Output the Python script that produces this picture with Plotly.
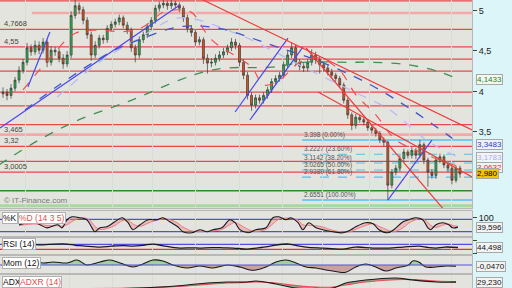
import numpy as np
import plotly.graph_objects as go

# ---------------- price candles (one per trading session) ----------------
CLOSE = [3.99,3.95,4.04,4.14,4.26,4.36,4.54,4.49,4.57,4.51,
         4.61,4.36,4.51,4.49,4.41,4.34,4.45,4.94,5.06,5.01,
         4.88,4.70,4.45,4.57,4.66,4.64,4.78,4.83,4.86,4.91,
         4.82,4.76,4.54,4.45,4.64,4.70,4.80,4.88,5.03,5.07,
         5.09,5.06,5.09,5.07,5.03,4.91,4.78,4.73,4.61,4.64,
         4.41,4.35,4.36,4.41,4.45,4.49,4.54,4.61,4.57,4.36,
         4.20,3.95,3.83,3.92,3.89,3.95,4.02,4.12,4.16,4.20,
         4.33,4.45,4.54,4.36,4.31,4.29,4.36,4.45,4.39,4.33,
         4.29,4.24,4.20,4.16,4.08,3.89,3.71,3.58,3.68,3.65,
         3.62,3.55,3.52,3.48,3.40,3.37,2.84,3.00,3.05,3.17,
         3.25,3.21,3.27,3.21,3.34,3.15,3.00,2.96,3.15,3.19,
         3.09,3.05,2.90,3.05,2.98]
OPEN = [3.97,3.99,3.95,4.04,4.14,4.26,4.36,4.54,4.49,4.57,
        4.51,4.61,4.36,4.51,4.49,4.41,4.34,4.45,4.94,5.06,
        5.01,4.88,4.70,4.45,4.57,4.66,4.64,4.78,4.83,4.86,
        4.91,4.82,4.76,4.54,4.45,4.64,4.70,4.80,4.88,5.03,
        5.07,5.09,5.06,5.09,5.07,5.03,4.91,4.78,4.73,4.61,
        4.64,4.41,4.35,4.36,4.41,4.45,4.49,4.54,4.61,4.57,
        4.36,4.20,3.95,3.83,3.92,3.89,3.95,4.02,4.12,4.16,
        4.20,4.33,4.45,4.54,4.36,4.31,4.29,4.36,4.45,4.39,
        4.33,4.29,4.24,4.20,4.16,4.08,3.89,3.71,3.58,3.68,
        3.65,3.62,3.55,3.52,3.48,3.40,3.37,2.84,3.00,3.05,
        3.17,3.25,3.21,3.27,3.21,3.34,3.15,3.00,2.96,3.15,
        3.19,3.09,3.05,2.90,3.05]
HIGH = [4.05,4.03,4.09,4.18,4.31,4.40,4.60,4.58,4.63,4.62,
        4.66,4.64,4.56,4.55,4.53,4.46,4.50,4.99,5.13,5.10,
        5.05,4.92,4.74,4.62,4.70,4.70,4.82,4.87,4.90,4.95,
        4.94,4.86,4.79,4.58,4.68,4.74,4.84,4.92,5.07,5.11,
        5.13,5.12,5.13,5.12,5.10,5.06,4.95,4.82,4.77,4.68,
        4.67,4.46,4.41,4.46,4.50,4.54,4.58,4.66,4.65,4.60,
        4.40,4.24,3.99,3.96,3.96,3.99,4.06,4.16,4.20,4.24,
        4.37,4.50,4.60,4.58,4.40,4.35,4.40,4.52,4.49,4.43,
        4.36,4.32,4.28,4.23,4.19,4.11,3.92,3.74,3.72,3.71,
        3.68,3.65,3.58,3.55,3.51,3.43,3.39,3.04,3.09,3.21,
        3.29,3.28,3.31,3.30,3.40,3.37,3.18,3.04,3.19,3.23,
        3.22,3.12,3.08,3.08,3.08]
LOW = [3.92,3.89,3.91,4.00,4.10,4.22,4.32,4.44,4.45,4.46,
       4.47,4.30,4.32,4.44,4.36,4.28,4.30,4.41,4.90,4.96,
       4.83,4.65,4.38,4.41,4.53,4.59,4.60,4.74,4.79,4.82,
       4.78,4.71,4.49,4.36,4.41,4.60,4.66,4.76,4.84,4.99,
       5.03,5.01,5.02,5.03,4.98,4.86,4.73,4.68,4.56,4.57,
       4.34,4.22,4.30,4.32,4.37,4.41,4.45,4.50,4.52,4.31,
       4.15,3.90,3.76,3.79,3.85,3.85,3.91,3.98,4.08,4.12,
       4.16,4.29,4.41,4.31,4.26,4.24,4.25,4.32,4.34,4.22,
       4.25,4.20,4.16,4.12,4.04,3.85,3.66,3.52,3.54,3.61,
       3.58,3.51,3.48,3.44,3.36,3.32,2.66,2.80,2.96,3.01,
       3.13,3.17,3.17,3.16,3.17,3.10,2.82,2.92,2.92,3.11,
       3.05,3.00,2.85,2.87,2.93]
IDX = list(range(len(CLOSE)))

# ---------------- moving averages (sampled) ----------------
MA_RED_X = [5, 12, 18, 24, 30, 35, 40, 44, 47, 52, 62, 65, 69, 74, 79, 84, 88, 93, 98, 104, 109, 114]
MA_RED = [4.02, 4.43, 4.72, 4.76, 4.74, 4.80, 4.98, 5.01, 4.98, 4.64, 4.30, 4.08, 4.14, 4.36, 4.41, 4.26,
          3.96, 3.71, 3.40, 3.25, 3.15, 3.0632]
MA_BLUE_X = [5.5, 14, 27, 34, 44, 54, 62, 69, 78, 91, 102, 111.5, 114]
MA_BLUE = [3.77, 4.08, 4.49, 4.64, 4.80, 4.78, 4.66, 4.54, 4.39, 4.10, 3.77, 3.44, 3.3483]
MA_LAV_X = [13.5, 24, 34, 44, 58, 67, 75, 86.5, 96.5, 105, 110, 114]
MA_LAV = [3.93, 4.36, 4.66, 4.91, 4.72, 4.51, 4.30, 4.02, 3.77, 3.42, 3.27, 3.1783]
MA_GREEN_X = [-1, 9, 19, 32, 44, 50, 56, 67, 75, 86, 92, 101, 109, 114]
MA_GREEN = [3.09, 3.40, 3.65, 3.89, 4.14, 4.24, 4.29, 4.30, 4.36, 4.36, 4.36, 4.33, 4.24, 4.1433]
LAST_PRICE = 2.980

# ---------------- drawn lines ----------------
BLUE_TRENDS = [([-0.75, 44.1], [3.547, 5.069]),
               ([6.2, 11.7], [4.054, 4.735]),
               ([57.9, 71.1], [3.745, 4.660]),
               ([61.6, 74.8], [3.646, 4.549]),
               ([96.0, 107.0], [2.655, 3.398])]
RED_TRENDS = [([49.9, 117.0], [5.131, 3.522]),
              ([75.6, 110.7], [4.537, 2.495]),
              ([78.6, 117.0], [3.992, 2.940])]
RED_LEVELS = [5.12, 4.7668, 4.55, 4.40, 4.25, 3.99, 3.82, 3.59, 3.32, 3.135, 3.0005]
PINK_LEVELS = [(7.2, 4.97), (-0.75, 3.465)]
GREEN_LEVEL = 2.77
LIGHT_GREEN_LEVEL = 2.585
LABELLED_LEVELS = [4.7668, 4.55, 3.465, 3.32, 3.0005]
LABELLED_TEXT = ["4,7668", "4,55", "3,465", "3,32", "3,0005"]
FIB_LEVELS = [3.398, 3.2227, 3.1142, 3.0265, 2.9389, 2.6551]
FIB_PCT = ["0.00%", "23.60%", "38.20%", "50.00%", "61.80%", "100.00%"]
FIB_START = 74.6

# ---------------- indicators ----------------
STOCH_X = [4, 8, 11, 13.7, 14.7, 16, 17.2, 19.2, 20.9, 22.2, 22.9, 24.2, 25.9, 27.9, 29.7, 31.2, 32.4, 34.2,
           36.2, 38.4, 39.9, 41.6, 43.6, 44.9, 47.1, 49.1, 50.9, 52.4, 54.6, 56.6, 57.9, 59.1, 61.1, 63.1,
           65.6, 67.3, 68.8, 70.6, 71.8, 73.6, 74.8, 76.3, 78.1, 79.8, 82.3, 84.8, 86.8, 88, 90.5, 92.3,
           93.8, 96, 97.5, 99.8, 101.2, 103, 104.7, 106, 106.7, 108, 109.7, 111.2, 112.2, 113.5]
STOCH_K = [55, 68, 35, 55, 35, 87, 106, 100, 87, 35, 10, 35, 42, 74, 100, 68, 23, 55, 87, 87, 100, 74, 42, 10,
           3, 23, 10, 23, 35, 87, 68, 23, 3, 23, 35, 100, 106, 87, 100, 68, 23, 68, 35, 23, 10, 3, 23, 42, 68,
           61, 23, 3, 23, 74, 87, 100, 87, 35, 23, 55, 68, 55, 35, 39.596]
STOCH_D = [50, 60, 50, 48, 45, 55, 75, 98, 95, 70, 45, 25, 30, 50, 80, 85, 60, 45, 65, 85, 92, 88, 65, 40,
           15, 10, 12, 16, 25, 55, 70, 55, 25, 12, 25, 60, 90, 98, 95, 85, 55, 50, 48, 40, 18, 8, 10, 25, 50,
           62, 45, 20, 10, 35, 65, 88, 92, 70, 50, 38, 52, 60, 50, 45]
STOCH_LEVELS = [90, 10]
RSI_X = [7.5, 10, 13, 15.9, 18, 20, 24.2, 27, 30, 32.4, 35, 37.4, 40, 44.1, 47, 49.1, 52, 55, 57.4, 60.9, 63.1,
         66, 68.1, 71.3, 73, 75.6, 79.8, 82, 84.8, 88, 92.3, 96.3, 99.8, 103.7, 106, 108, 110.2, 113.5]
RSI_V = [70, 66, 72, 72, 62, 58, 48, 55, 60, 56, 62, 72, 58, 40, 42, 40, 44, 42, 40, 32, 40, 52, 64, 72, 62, 48,
         40, 36, 32, 48, 40, 40, 48, 56, 45, 40, 48, 44.498]
RSI_LEVELS = [70, 30]
MOM_X = [7.5, 10, 12.5, 16, 18.5, 20.9, 24.2, 26.7, 29.2, 32.4, 34.9, 37.4, 39.9, 42.4, 45.9, 49.1, 52.4, 55.9,
         59.1, 61.6, 63.1, 65.6, 68.1, 70.6, 73.1, 75.6, 78.1, 80.5, 83, 85.5, 88, 90.5, 93, 95.5, 98, 101.2,
         102.2, 103.7, 105.5, 108, 110.5, 113]
MOM_V = [0.2, 0.08, 0.12, 0.08, 0.2, 0, 0.12, 0.2, 0.08, -0.08, 0.04, 0.2, 0.16, 0, -0.12, -0.04, -0.12, 0,
         -0.08, -0.2, -0.2, -0.08, 0.12, 0.2, 0.08, -0.08, -0.12, -0.2, -0.26, -0.29, -0.08, 0.04, -0.08,
         -0.24, -0.12, 0, 0.16, 0.12, -0.08, -0.08, -0.04, -0.047]
ADX_X = [0, 14.2, 29.2, 39.2, 45.9, 50.9, 55.9, 60.8, 63.1, 68.1, 73.1, 78.1, 82.3, 85.5, 90.5, 98, 102.2, 108, 113]
ADX_V = [-5, -5, -3, 5, 15, 25, 30, 30, 35, 20, 0, -2, 0, 25, 40, 50, 40, 30, 29.23]
ADXR_V = [-4, -3, -2, 3, 10, 18, 25, 28, 30, 25, 12, 5, 5, 15, 30, 42, 42, 35, 32]

GRID_IDX = [5.5, 16.7, 27.2, 37.4, 47.9, 59.1, 69.6, 79.8, 91.5, 101.5, 112.0]

# ---------------- geometry ----------------
W, H = 512, 288
XR = [-0.75, 117.0]
XDOM = [0, 472 / W]
FONT = "Liberation Sans"


def ydom(top, bot):
    return [1 - bot / H, 1 - top / H]


def fmt(v, nd):
    return f"{v:.{nd}f}".replace(".", ",")


fig = go.Figure()


def line(x, y, color, dash="solid", width=1.2, ax="", shape="linear", **kw):
    fig.add_trace(go.Scatter(x=x, y=y, mode="lines",
                             line=dict(color=color, dash=dash, width=width, shape=shape),
                             xaxis="x" + ax, yaxis="y" + ax, hoverinfo="skip", **kw))


# main panel
fig.add_trace(go.Candlestick(
    x=IDX, open=OPEN, high=HIGH, low=LOW, close=CLOSE,
    increasing=dict(line=dict(color="#3a3a3a", width=0.7), fillcolor="#2db34a"),
    decreasing=dict(line=dict(color="#3a3a3a", width=0.7), fillcolor="#d9531e"),
    whiskerwidth=0, hoverinfo="skip", xaxis="x", yaxis="y"))

line(MA_GREEN_X, MA_GREEN, "#3f8f55", "dash", 1.3, shape="spline")
line(MA_LAV_X, MA_LAV, "#b4bcf0", "dash", 1.3, shape="spline")
line(MA_BLUE_X, MA_BLUE, "#3f57c8", "dash", 1.3, shape="spline")
line(MA_RED_X, MA_RED, "#ee5050", "dash", 1.2, shape="spline")
for xs, ys in BLUE_TRENDS:
    line(xs, ys, "#4848ee", "solid", 1.2)
for xs, ys in RED_TRENDS:
    line(xs, ys, "#ee3c3c", "solid", 1.2)

shapes = []
shapes.append(dict(type="rect", xref="paper", yref="paper", x0=0, x1=XDOM[1], y0=0, y1=1,
                   fillcolor="#e4e4df", line=dict(width=0), layer="below"))
for lv in RED_LEVELS:
    shapes.append(dict(type="line", xref="x", yref="y", x0=XR[0], x1=XR[1], y0=lv, y1=lv,
                       line=dict(color="#e8494b", width=1.3), layer="below"))
for x0, lv in PINK_LEVELS:
    shapes.append(dict(type="line", xref="x", yref="y", x0=x0, x1=XR[1], y0=lv, y1=lv,
                       line=dict(color="#f3a9a9", width=2.6), layer="below"))
shapes.append(dict(type="line", xref="x", yref="y", x0=XR[0], x1=XR[1], y0=GREEN_LEVEL, y1=GREEN_LEVEL,
                   line=dict(color="#2f8a2f", width=1.4), layer="below"))
shapes.append(dict(type="line", xref="x", yref="y", x0=XR[0], x1=XR[1], y0=LIGHT_GREEN_LEVEL,
                   y1=LIGHT_GREEN_LEVEL, line=dict(color="#a8d8a0", width=3), layer="below"))
for i, lv in enumerate(FIB_LEVELS):
    solid = i in (0, len(FIB_LEVELS) - 1)
    shapes.append(dict(type="line", xref="x", yref="y", x0=FIB_START, x1=XR[1], y0=lv, y1=lv,
                       line=dict(color="#52bff0", width=1.4 if solid else 1.1,
                                 dash="solid" if solid else "dash"), layer="below"))

# indicator panels
line(STOCH_X, STOCH_D, "#ec7d7d", "solid", 1.0, ax="2", shape="spline")
line(STOCH_X, STOCH_K, "#1a1a1a", "solid", 1.1, ax="2", shape="spline",
     fill="tonexty", fillcolor="rgba(238,140,140,0.45)")
for lv in STOCH_LEVELS:
    shapes.append(dict(type="line", xref="x2", yref="y2", x0=XR[0], x1=XR[1], y0=lv, y1=lv,
                       line=dict(color="#5050e0", width=1.2), layer="below"))

shapes.append(dict(type="line", xref="x3", yref="y3", x0=XR[0], x1=XR[1], y0=RSI_LEVELS[0], y1=RSI_LEVELS[0],
                   line=dict(color="#5050e0", width=1.2), layer="below"))
shapes.append(dict(type="line", xref="x3", yref="y3", x0=XR[0], x1=XR[1], y0=RSI_LEVELS[1], y1=RSI_LEVELS[1],
                   line=dict(color="#e83030", width=1.2), layer="below"))
line(RSI_X, RSI_V, "#1a1a1a", "solid", 1.3, ax="3", shape="spline")

mom = np.array(MOM_V)
fig.add_trace(go.Scatter(x=MOM_X, y=np.maximum(mom, 0), mode="lines", line=dict(width=0, shape="spline"),
                         fill="tozeroy", fillcolor="rgba(120,195,120,0.6)", xaxis="x4", yaxis="y4",
                         hoverinfo="skip"))
fig.add_trace(go.Scatter(x=MOM_X, y=np.minimum(mom, 0), mode="lines", line=dict(width=0, shape="spline"),
                         fill="tozeroy", fillcolor="rgba(175,95,85,0.5)", xaxis="x4", yaxis="y4",
                         hoverinfo="skip"))
shapes.append(dict(type="line", xref="x4", yref="y4", x0=XR[0], x1=XR[1], y0=0, y1=0,
                   line=dict(color="#5050e0", width=1.2)))
line(MOM_X, MOM_V, "#1a1a1a", "solid", 1.1, ax="4", shape="spline")

line(ADX_X, ADXR_V, "#e85050", "solid", 1.1, ax="5", shape="spline")
line(ADX_X, ADX_V, "#1a1a1a", "solid", 1.1, ax="5", shape="spline",
     fill="tonexty", fillcolor="rgba(90,90,90,0.5)")

# ---------------- axes ----------------
common_x = dict(domain=XDOM, range=XR, showticklabels=False, ticks="", showgrid=True,
                gridcolor="#dcdcd6", gridwidth=1, tickvals=GRID_IDX, zeroline=False,
                showline=True, mirror=True, linecolor="#b8b8b8", fixedrange=True)
common_y = dict(side="right", ticks="outside", ticklen=4, tickcolor="#444",
                tickfont=dict(size=9, color="#222", family=FONT), showgrid=False, zeroline=False,
                showline=True, mirror=True, linecolor="#b8b8b8", fixedrange=True)

layout_axes = dict(
    xaxis=dict(**common_x, anchor="y", rangeslider=dict(visible=False)),
    xaxis2=dict(**common_x, anchor="y2"),
    xaxis3=dict(**common_x, anchor="y3"),
    xaxis4=dict(**common_x, anchor="y4"),
    xaxis5=dict(**common_x, anchor="y5"),
    yaxis=dict(**common_y, anchor="x", domain=ydom(0, 208), range=[2.557, 5.131], tickvals=[3.5, 4, 4.5, 5]),
    yaxis2=dict(**common_y, anchor="x2", domain=ydom(211, 236), range=[-17.7, 143.5], tickvals=[100]),
    yaxis3=dict(**common_y, anchor="x3", domain=ydom(238, 254), range=[-7.6, 120.4], tickvals=[0, 100],
                showticklabels=False),
    yaxis4=dict(**common_y, anchor="x4", domain=ydom(256, 273), range=[-0.32, 0.36], tickvals=[]),
    yaxis5=dict(**common_y, anchor="x5", domain=ydom(275, 288), range=[0, 65], tickvals=[]),
)

# ---------------- annotations ----------------
ann = []
for lv, txt in zip(LABELLED_LEVELS, LABELLED_TEXT):
    ann.append(dict(xref="paper", yref="y", x=2 / W, y=lv, text=txt, showarrow=False, xanchor="left",
                    yanchor="bottom", yshift=-1, font=dict(size=7.5, color="#444", family=FONT)))
for lv, pct in zip(FIB_LEVELS, FIB_PCT):
    ann.append(dict(xref="x", yref="y", x=FIB_START, y=lv, text=f"{lv} ({pct})", showarrow=False,
                    xanchor="left", yanchor="bottom", yshift=-1,
                    font=dict(size=6.5, color="#555", family=FONT)))
ann.append(dict(xref="paper", yref="y", x=2 / W, y=2.655, text="© IT-Finance.com", showarrow=False,
                xanchor="left", yanchor="middle", font=dict(size=8, color="#777", family=FONT)))

boxes = [("y", MA_GREEN[-1], 4, "#2e7d32", "#f3f7ee"),
         ("y", MA_BLUE[-1], 4, "#2f3fc0", "#eef0fb"),
         ("y", MA_LAV[-1], 4, "#aab0e6", "#f3f3fb"),
         ("y", MA_RED[-1], 4, "#e03030", "#f8f0f0"),
         ("y", LAST_PRICE, 3, "#000000", "#f5c400"),
         ("y2", STOCH_K[-1], 3, "#111", "#f4f4f4"),
         ("y3", RSI_V[-1], 3, "#111", "#f4f4f4"),
         ("y4", MOM_V[-1], 4, "#111", "#f4f4f4"),
         ("y5", ADX_V[-1], 3, "#111", "#f4f4f4")]
for yr, v, nd, col, bg in boxes:
    ann.append(dict(xref="paper", yref=yr, x=476 / W, y=v, text=fmt(v, nd), showarrow=False,
                    xanchor="left", yanchor="middle", bgcolor=bg, bordercolor="#a8a8a8", borderwidth=1,
                    borderpad=0, font=dict(size=8, color=col, family=FONT)))

panel_labels = [(2, 212, "%K", "#111"), (18, 212, "%D (14 3 5)", "#e05050"),
                (2, 238, "RSI (14)", "#111"), (2, 257, "Mom (12)", "#111"),
                (2, 276, "ADX", "#111"), (19, 276, "ADXR (14)", "#e05050")]
for px, py, txt, col in panel_labels:
    ann.append(dict(xref="paper", yref="paper", x=px / W, y=1 - py / H, text=txt, showarrow=False,
                    xanchor="left", yanchor="top", bgcolor="#ffffff", bordercolor="#b0b0b0", borderwidth=1,
                    borderpad=0, font=dict(size=8.5, color=col, family=FONT)))

fig.update_layout(
    width=W, height=H, autosize=False, margin=dict(l=0, r=0, t=0, b=0),
    paper_bgcolor="#dcf5f8", plot_bgcolor="#fdfdf1", showlegend=False,
    separators=", ", hovermode=False, shapes=shapes, annotations=ann,
    font=dict(family=FONT), **layout_axes)

fig.write_html("out.html")
